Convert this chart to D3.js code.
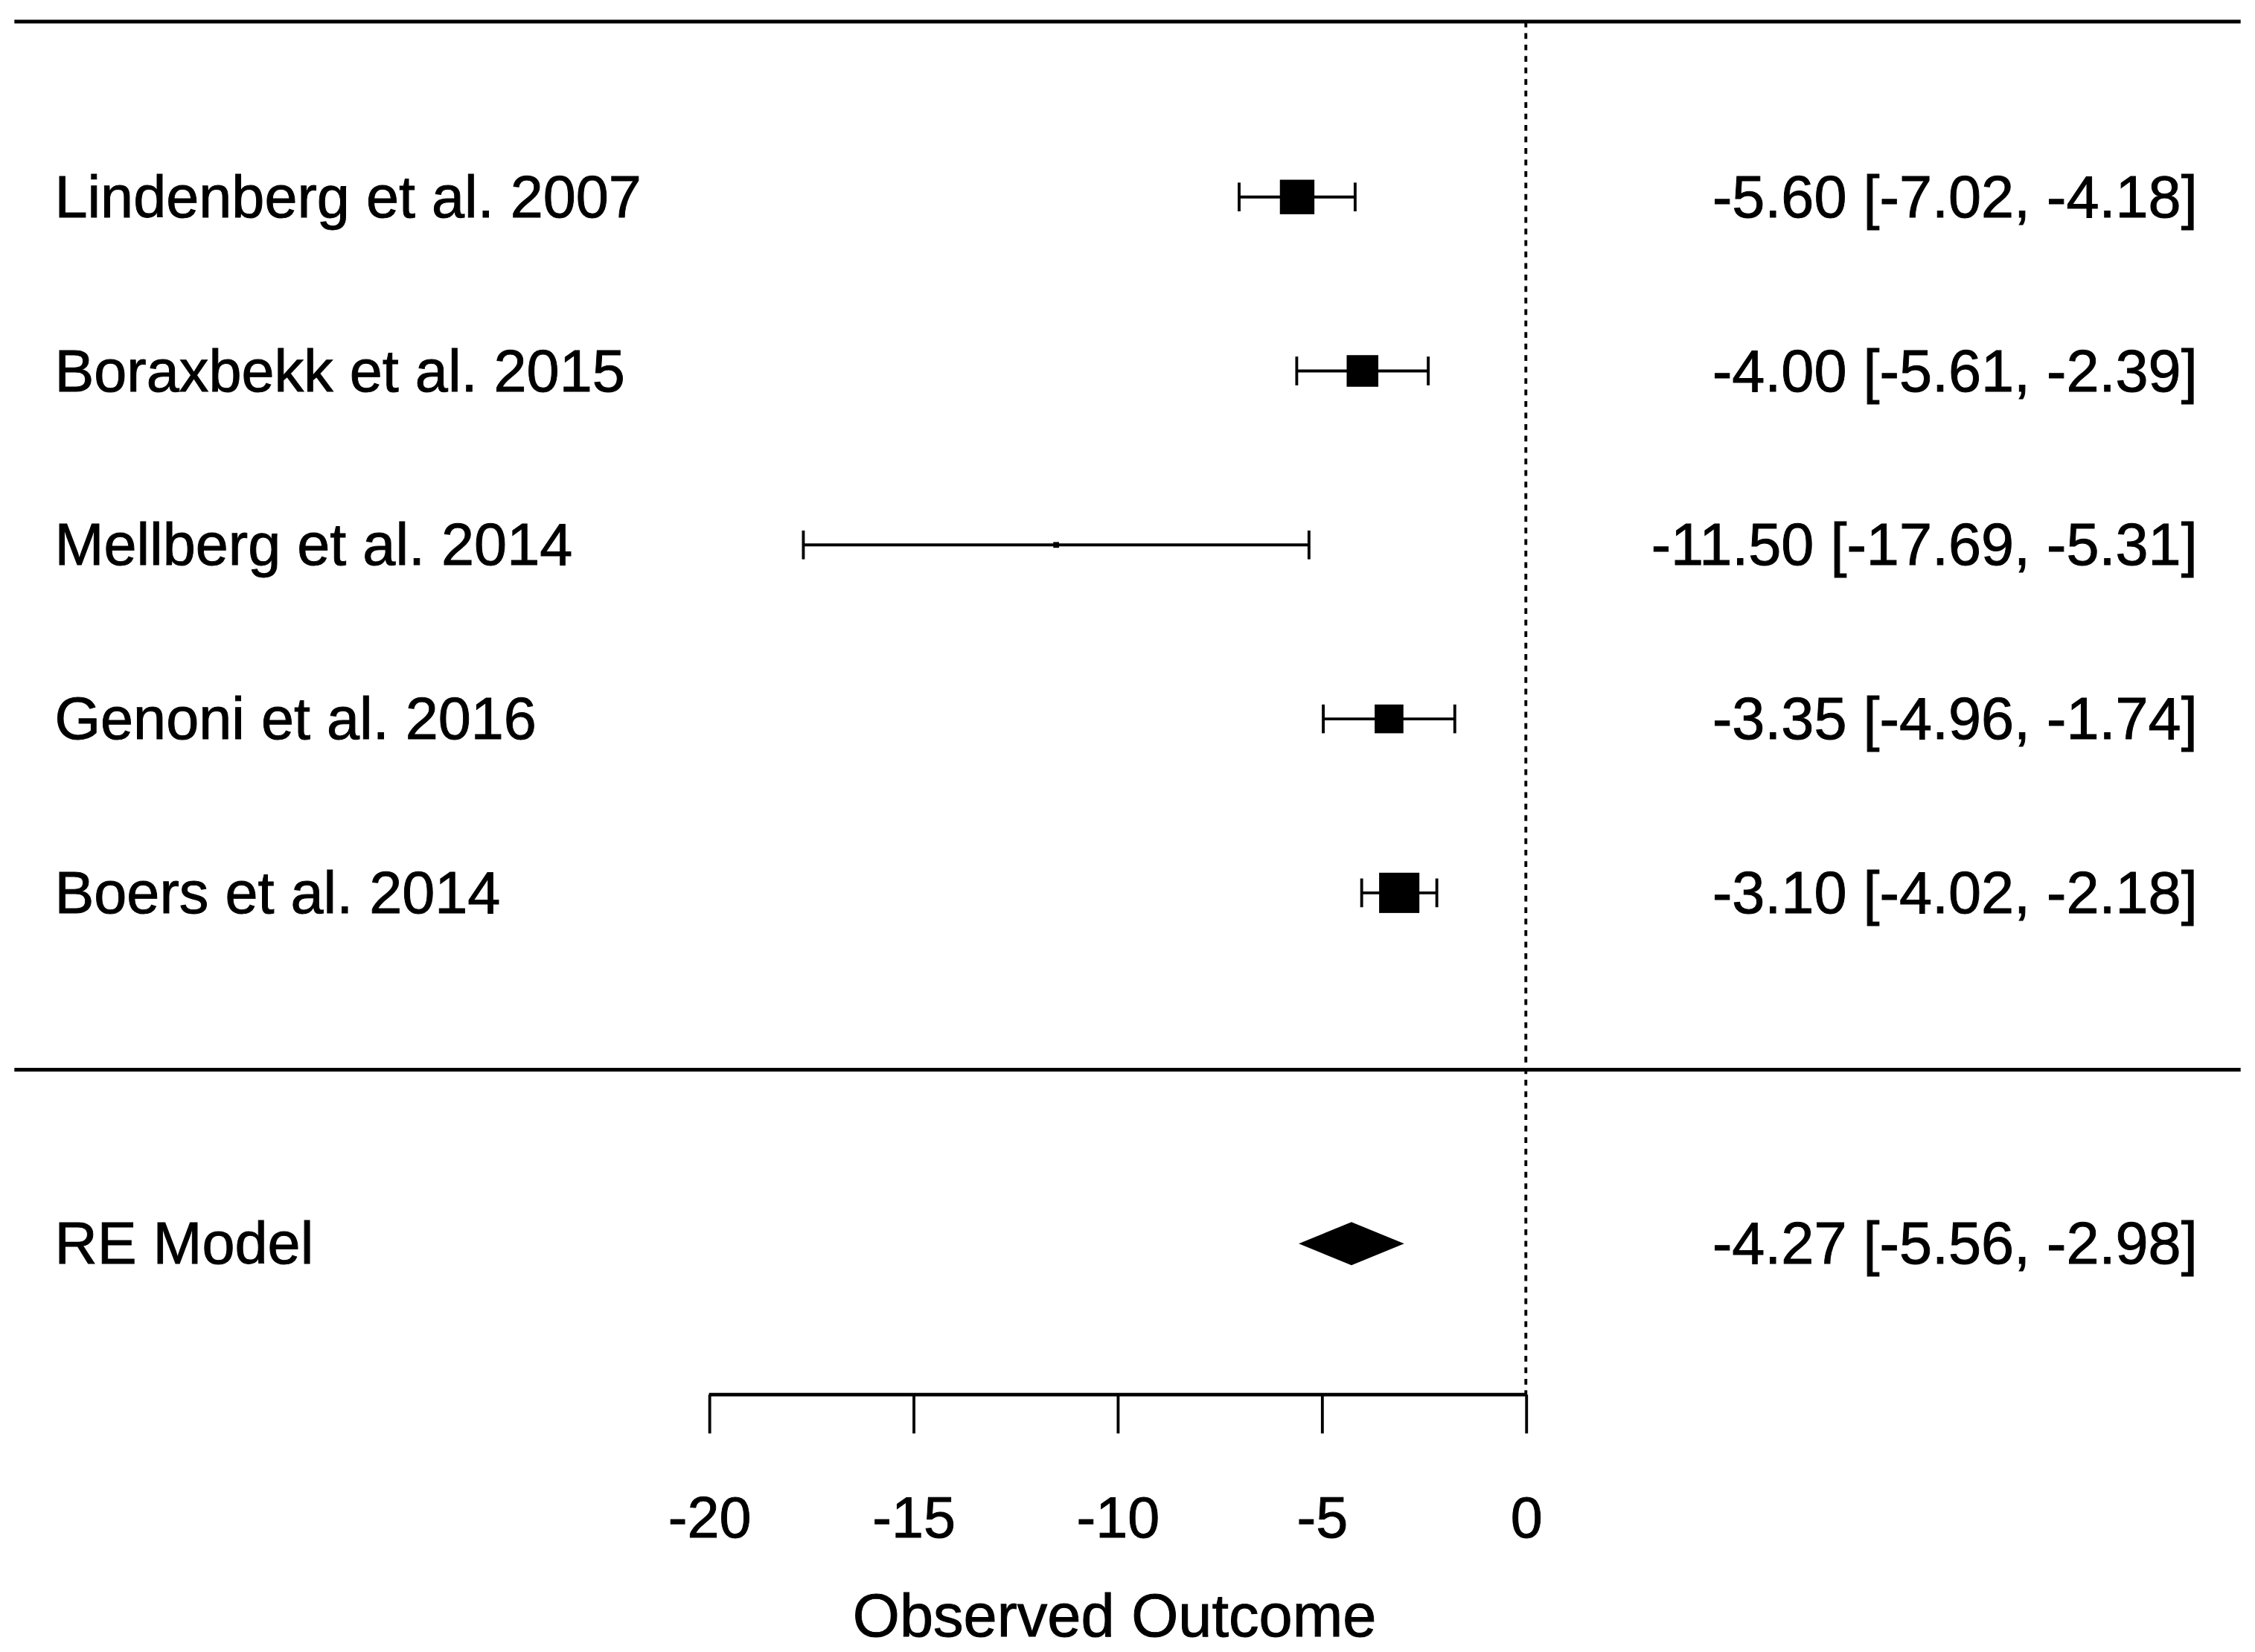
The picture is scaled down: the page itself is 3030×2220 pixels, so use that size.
<!DOCTYPE html>
<html><head><meta charset="utf-8">
<script src="https://cdn.jsdelivr.net/npm/d3@7"></script>
<style>body{margin:0;background:#fff}</style></head>
<body><div id="c"></div>
<script>
const studies = ["Lindenberg et al. 2007","Boraxbekk et al.  2015","Mellberg et al. 2014","Genoni et al. 2016","Boers et al. 2014"];
const est = [-5.60,-4.00,-11.50,-3.35,-3.10];
const lo = [-7.02,-5.61,-17.69,-4.96,-4.02];
const hi = [-4.18,-2.39,-5.31,-1.74,-2.18];
const boxSize = [24,22,4,20,28];
const model = {label:"RE Model", est:-4.27, lo:-5.56, hi:-2.98};
const ticks = [-20,-15,-10,-5,0];

const FF = "'Liberation Sans',Arial,sans-serif";
const svg = d3.select("#c").append("svg").attr("width",3030).attr("height",2220)
  .attr("viewBox","0 0 1568 1149").attr("preserveAspectRatio","none")
  .style("font-family",FF);
const x = d3.scaleLinear().domain([-20,0]).range([493,1061]);
const y = d3.scalePoint().domain(studies).range([137,621]);
const f2 = v => v.toFixed(2);
const lab = (e,l,h)=>`${f2(e)} [${f2(l)}, ${f2(h)}]`;
const txt = (sel)=>sel.attr("font-size",41).attr("stroke","#000").attr("stroke-width",0.5);

svg.append("line").attr("x1",10).attr("x2",1558).attr("y1",15).attr("y2",15).attr("stroke","#000").attr("stroke-width",2.5);
svg.append("line").attr("x1",10).attr("x2",1558).attr("y1",744).attr("y2",744).attr("stroke","#000").attr("stroke-width",2.5);
svg.append("line").attr("x1",x(0)).attr("x2",x(0)).attr("y1",15).attr("y2",970).attr("stroke","#000").attr("stroke-width",2).attr("stroke-dasharray","4,4");

const g = svg.append("g");
studies.forEach((s,i)=>{
  const yy=y(s);
  txt(g.append("text").attr("x",38).attr("y",yy+14)).text(s);
  txt(g.append("text").attr("x",1528).attr("y",yy+14).attr("text-anchor","end")).text(lab(est[i],lo[i],hi[i]));
  g.append("line").attr("x1",x(lo[i])).attr("x2",x(hi[i])).attr("y1",yy).attr("y2",yy).attr("stroke","#000").attr("stroke-width",2);
  [lo[i],hi[i]].forEach(v=>g.append("line").attr("x1",x(v)).attr("x2",x(v)).attr("y1",yy-10).attr("y2",yy+10).attr("stroke","#000").attr("stroke-width",2));
  g.append("rect").attr("x",x(est[i])-boxSize[i]/2).attr("y",yy-boxSize[i]/2).attr("width",boxSize[i]).attr("height",boxSize[i]).attr("fill","#000");
});
const my=865;
txt(svg.append("text").attr("x",38).attr("y",my+14)).text(model.label);
txt(svg.append("text").attr("x",1528).attr("y",my+14).attr("text-anchor","end")).text(lab(model.est,model.lo,model.hi));
svg.append("path").attr("d",`M${x(model.lo)},${my}L${x(model.est)},${my-15}L${x(model.hi)},${my}L${x(model.est)},${my+15}Z`).attr("fill","#000");

const ax = svg.append("g").attr("transform","translate(0,970)")
  .call(d3.axisBottom(x).tickValues(ticks).tickSize(27).tickPadding(44).tickFormat(d=>String(d)));
ax.select(".domain").attr("stroke-width",2.5).attr("d",`M${x(-20)},0H${x(0)}`);
ax.selectAll(".tick line").attr("stroke-width",2);
ax.selectAll("text").attr("font-size",40).attr("font-family",FF).attr("stroke","#000").attr("stroke-width",0.5);
txt(svg.append("text").attr("x",775).attr("y",1138).attr("text-anchor","middle").attr("font-size",42)).attr("font-size",42).text("Observed Outcome");
</script></body></html>
